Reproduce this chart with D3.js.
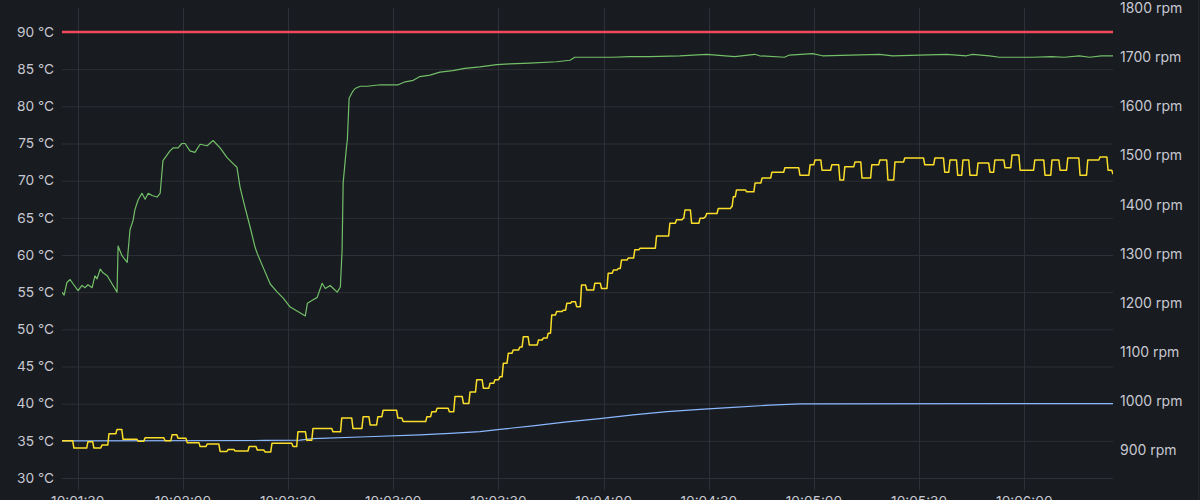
<!DOCTYPE html>
<html>
<head>
<meta charset="utf-8">
<script src="https://cdn.jsdelivr.net/npm/d3@7"></script>
<style>
  html, body { margin: 0; padding: 0; background: #181b1f; }
  svg { display: block; }
  text { font-family: Inter, "Open Sans", sans-serif; }
</style>
</head>
<body>
<svg id="chart" width="1200" height="500"></svg>
<script>
// ---------------- DATA ----------------
const startTime = "10:01:00";           // time origin; offsets below are seconds after it
const xDomainSeconds = [25.5, 325.3];   // visible window
const xTickLabels = ["10:01:30","10:02:00","10:02:30","10:03:00","10:03:30","10:04:00","10:04:30","10:05:00","10:05:30","10:06:00"];
const leftTicks = [30, 35, 40, 45, 50, 55, 60, 65, 70, 75, 80, 85, 90];
const rightTicks = [900, 1000, 1100, 1200, 1300, 1400, 1500, 1600, 1700, 1800];

const thresholdTemp = 90;   // °C, red line

// green series: [seconds, °C]
const cpuTemp = [
  [25.5,55.0],[26.1,54.6],[26.9,56.3],[27.8,56.7],[28.7,56.1],[30.1,55.2],[31.2,55.9],[32.1,55.6],
  [32.9,56.0],[34.1,55.6],[34.9,57.2],[35.5,56.8],[36.4,58.1],[37.2,57.6],[38.4,57.2],[39.8,56.1],
  [41.2,55.0],[41.5,61.2],[42.6,59.9],[44.1,59.0],[44.3,60.2],[44.9,63.4],[45.8,64.7],[46.3,66.1],
  [47.2,67.4],[48.3,68.3],[49.2,67.5],[50.1,68.3],[51.2,68.0],[52.6,67.8],[53.5,68.3],[54.3,72.7],
  [56.3,74.0],[57.2,74.4],[58.6,74.4],[59.7,75.0],[60.6,75.0],[62.0,74.0],[63.4,73.8],[64.9,74.9],
  [66.9,74.7],[68.6,75.4],[70.6,74.4],[72.6,73.1],[74.3,72.3],[75.4,71.8],[76.3,69.1],[77.7,66.4],
  [79.2,63.7],[80.6,61.0],[81.2,60.2],[82.9,58.3],[84.9,56.1],[86.9,55.0],[88.6,54.2],[90.6,53.0],
  [93.5,52.2],[94.9,51.8],[95.5,53.5],[96.9,53.9],[98.3,54.3],[99.7,56.2],[100.6,55.5],[102.0,55.9],
  [102.9,55.5],[104.0,55.0],[104.9,55.7],[105.4,60.7],[105.7,69.7],[106.6,74.3],[106.9,75.5],
  [107.4,81.1],[108.3,81.9],[109.1,82.4],[110.6,82.7],[112.6,82.7],[116.3,82.9],[121.4,82.9],
  [123.4,83.3],[125.7,83.5],[127.6,84.0],[130.5,84.2],[133.3,84.6],[137.0,84.8],[140.4,85.1],
  [144.7,85.3],[149.5,85.6],[153.2,85.7],[158.9,85.8],[166.6,86.0],[170.4,86.2],[171.8,86.6],
  [176.1,86.6],[182.6,86.6],[187.5,86.7],[193.2,86.7],[201.7,86.8],[209.4,87.0],[217.4,86.7],
  [223.1,87.0],[224.5,86.8],[231.6,86.6],[233.0,86.9],[239.6,87.1],[242.4,86.8],[258.7,87.0],
  [262.4,86.8],[277.8,87.0],[283.5,86.8],[285.2,87.0],[290.1,86.8],[292.9,86.6],[302.3,86.6],
  [307.7,86.7],[311.4,86.6],[315.7,86.8],[318.6,86.6],[322.0,86.8],[325.3,86.8]
];

// blue series: [seconds, °C]
const boardTemp = [
  [25.5,35.0],[83.4,35.05],[93.4,35.1],[97.1,35.3],[112.5,35.55],[127.6,35.8],[136.2,36.0],
  [144.7,36.25],[150.4,36.55],[159.8,37.0],[169.5,37.55],[178.9,38.0],[188.4,38.48],[198.1,38.92],
  [207.5,39.24],[216.9,39.5],[227.4,39.8],[236.0,39.98],[325.3,40.0]
];

// yellow series (right axis): level changes [seconds, rpm]
const fanSpeed = [
  [25.5,919],[28.9,904],[32.9,917],[34.6,904],[36.9,910],[38.9,933],[41.2,942],[42.9,922],
  [47.2,918],[49.2,925],[54.9,919],[56.9,931],[58.6,924],[61.2,915],[64.9,907],[66.9,912],
  [70.6,897],[72.9,901],[74.9,898],[78.9,907],[81.2,900],[83.4,896],[85.4,914],[91.4,907],
  [92.8,937],[95.3,920],[97.1,944],[102.8,937],[105.3,965],[108.5,944],[111.4,968],[113.4,951],
  [115.6,968],[117.1,981],[121.3,965],[122.8,958],[129.6,968],[131.0,978],[132.5,985],[136.0,978],
  [137.6,1009],[140.0,995],[141.9,1018],[143.8,1043],[145.7,1026],[147.6,1036],[149.0,1043],
  [150.4,1049],[151.4,1077],[152.8,1097],[154.2,1104],[156.1,1110],[157.1,1131],[158.8,1114],
  [161.4,1124],[162.8,1128],[164.2,1138],[165.2,1175],[166.6,1182],[168.5,1185],[169.5,1199],
  [170.9,1202],[172.3,1192],[173.7,1236],[175.2,1226],[177.5,1240],[179.4,1229],[181.3,1260],
  [182.8,1267],[184.2,1270],[185.1,1287],[187.0,1291],[188.9,1308],[190.4,1311],[195.1,1336],
  [198.9,1362],[200.8,1369],[202.7,1372],[203.2,1389],[205.1,1362],[207.5,1372],[208.9,1375],
  [209.4,1382],[212.7,1392],[216.5,1396],[217.0,1416],[217.9,1430],[220.8,1426],[223.2,1444],
  [225.2,1454],[228.0,1466],[231.7,1475],[236.0,1460],[238.9,1481],[240.3,1491],[242.3,1470],
  [245.1,1481],[247.4,1450],[248.8,1477],[251.7,1487],[253.7,1454],[256.5,1481],[258.8,1491],
  [261.1,1450],[263.1,1487],[265.9,1495],[271.6,1481],[274.5,1495],[277.3,1466],[278.8,1491],
  [281.0,1460],[282.5,1491],[284.5,1460],[286.8,1485],[290.2,1466],[291.6,1491],[294.5,1475],
  [296.5,1501],[298.8,1470],[303.0,1491],[305.9,1460],[307.9,1491],[310.2,1470],[312.4,1495],
  [315.9,1460],[318.1,1491],[321.6,1497],[323.9,1470],[325.3,1462]
];

// ---------------- LAYOUT ----------------
const W = 1200, H = 500;
const plot = { left: 62, right: 1113, top: 8, bottom: 490 };
const colors = {
  bg: "#181b1f", grid: "#2d3036", text: "#c7c8d2",
  red: "#f2495c", green: "#73bf69", yellow: "#fade2a", blue: "#8ab8ff"
};

const svg = d3.select("#chart");
svg.append("rect").attr("width", W).attr("height", H).attr("fill", colors.bg);

const parseT = d3.timeParse("%H:%M:%S");
const t0 = parseT(startTime);
const toDate = s => new Date(t0.getTime() + s * 1000);

const x = d3.scaleTime()
  .domain(xDomainSeconds.map(toDate))
  .range([plot.left, plot.right]);

const yL = d3.scaleLinear().domain([30, 90]).range([478, 32]);
const yR = d3.scaleLinear().domain([900, 1800]).range([450, 8.3]);

// grid
const g = svg.append("g");
g.selectAll("line.h").data(leftTicks).join("line")
  .attr("x1", plot.left).attr("x2", plot.right)
  .attr("y1", d => yL(d) + 0.5).attr("y2", d => yL(d) + 0.5)
  .attr("stroke", colors.grid).attr("stroke-width", 1);
const xTickDates = xTickLabels.map(parseT);
g.selectAll("line.v").data(xTickDates).join("line")
  .attr("x1", d => Math.round(x(d)) + 0.5).attr("x2", d => Math.round(x(d)) + 0.5)
  .attr("y1", plot.top).attr("y2", plot.bottom)
  .attr("stroke", colors.grid).attr("stroke-width", 1);

// axis labels
svg.append("g").selectAll("text").data(leftTicks).join("text")
  .attr("x", 54).attr("y", d => yL(d)).attr("dy", "0.35em")
  .attr("text-anchor", "end").attr("fill", colors.text).attr("font-size", 13.7)
  .text(d => d + " °C");
svg.append("g").selectAll("text").data(rightTicks).join("text")
  .attr("x", 1120).attr("y", d => yR(d)).attr("dy", "0.35em")
  .attr("text-anchor", "start").attr("fill", colors.text).attr("font-size", 14)
  .text(d => d + " rpm");
svg.append("g").selectAll("text").data(xTickDates).join("text")
  .attr("x", d => x(d)).attr("y", 506)
  .attr("text-anchor", "middle").attr("fill", colors.text).attr("font-size", 13.7)
  .text(d => d3.timeFormat("%H:%M:%S")(d));

// clip
svg.append("clipPath").attr("id", "clip").append("rect")
  .attr("x", plot.left).attr("y", plot.top)
  .attr("width", plot.right - plot.left).attr("height", plot.bottom - plot.top);
const series = svg.append("g").attr("clip-path", "url(#clip)");

const lineL = d3.line().x(d => x(toDate(d[0]))).y(d => yL(d[1]));
const lineR = d3.line().x(d => x(toDate(d[0]))).y(d => yR(d[1]));

// threshold
series.append("path")
  .datum([[xDomainSeconds[0], thresholdTemp], [xDomainSeconds[1], thresholdTemp]])
  .attr("d", lineL).attr("fill", "none").attr("stroke", colors.red).attr("stroke-width", 2.5);

// blue
series.append("path").datum(boardTemp).attr("d", lineL)
  .attr("fill", "none").attr("stroke", colors.blue).attr("stroke-width", 1.2);

// yellow, stepped with slightly sloped edges
const fanPts = [];
fanSpeed.forEach((d, i) => {
  fanPts.push(d);
  if (i < fanSpeed.length - 1) fanPts.push([fanSpeed[i + 1][0] - 0.35, d[1]]);
});
series.append("path").datum(fanPts).attr("d", lineR)
  .attr("fill", "none").attr("stroke", colors.yellow).attr("stroke-width", 1.5)
  .attr("stroke-linejoin", "round");

// green
series.append("path").datum(cpuTemp).attr("d", lineL)
  .attr("fill", "none").attr("stroke", colors.green).attr("stroke-width", 1.2)
  .attr("stroke-linejoin", "round");

// right border
svg.append("line").attr("x1", 1198.5).attr("x2", 1198.5).attr("y1", 0).attr("y2", H)
  .attr("stroke", "#24272c");
</script>
</body>
</html>
